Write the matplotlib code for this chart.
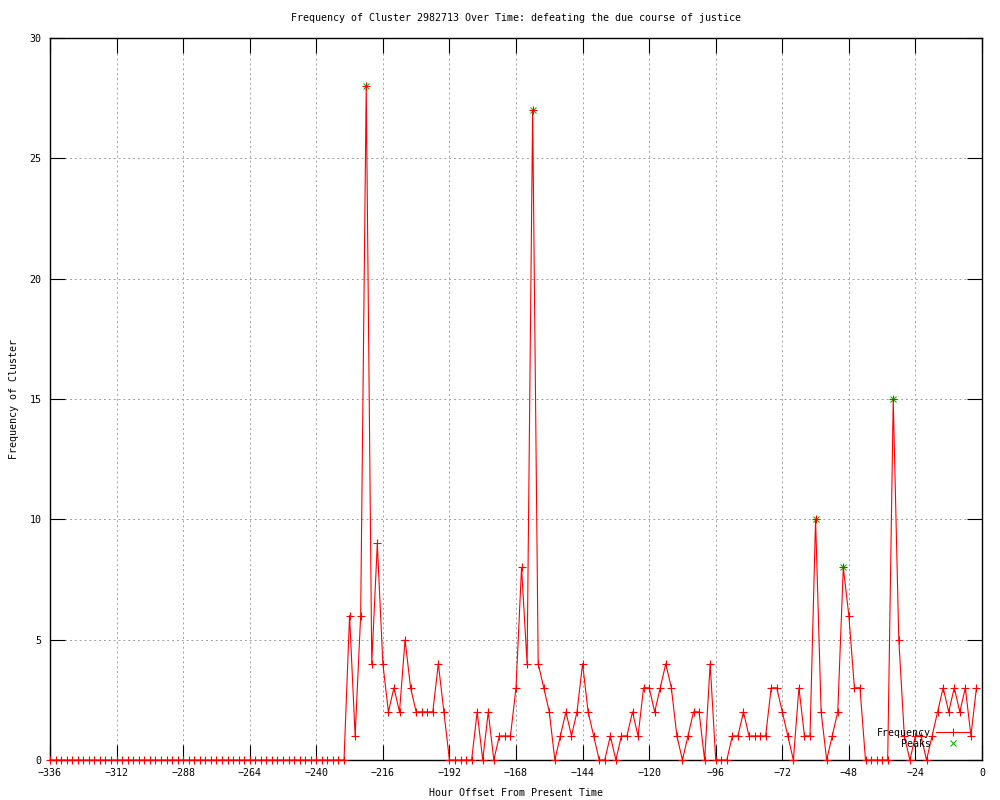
import matplotlib
matplotlib.use("Agg")
import matplotlib.pyplot as plt
import numpy as np

# hours before present, one sample every 2 hours
hours = np.arange(-336, 0, 2)

# -336 .. -230 : nothing
freq_quiet = [0] * 54
# -228 .. -2
freq_active = [6, 1, 6, 28, 4, 9, 4, 2, 3, 2, 5, 3, 2, 2, 2, 2, 4, 2,
               0, 0, 0, 0, 0, 2, 0, 2, 0, 1, 1, 1, 3, 8, 4, 27, 4, 3,
               2, 0, 1, 2, 1, 2, 4, 2, 1, 0, 0, 1, 0, 1, 1, 2, 1, 3,
               3, 2, 3, 4, 3, 1, 0, 1, 2, 2, 0, 4, 0, 0, 0, 1, 1, 2,
               1, 1, 1, 1, 3, 3, 2, 1, 0, 3, 1, 1, 10, 2, 0, 1, 2, 8,
               6, 3, 3, 0, 0, 0, 0, 0, 15, 5, 1, 0, 1, 1, 0, 1, 2, 3,
               2, 3, 2, 3, 1, 3]
freq = np.array(freq_quiet + freq_active)

peak_hours = [-222, -162, -60, -50, -32]
peak_vals = [28, 27, 10, 8, 15]

title = "Frequency of Cluster 2982713 Over Time: defeating the due course of justice"

plt.rcParams['font.family'] = ['DejaVu Sans Mono']
fs = 7.2

fig = plt.figure(figsize=(10, 8), dpi=100)
ax = fig.add_axes([0.05, 0.05, 0.932, 0.9025])

ax.plot(hours, freq, color='#ff0000', lw=0.8, marker='+', ms=6, mew=0.8,
        label='Frequency', clip_on=False, zorder=4)
ax.plot(peak_hours, peak_vals, ls='none', color='#00c000', marker='x', ms=5,
        mew=0.8, label='Peaks', clip_on=False, zorder=3)

ax.set_xlim(-336, 0)
ax.set_ylim(0, 30)
ax.set_xticks(np.arange(-336, 1, 24))
ax.set_yticks(np.arange(0, 31, 5))
ax.tick_params(direction='in', length=11, width=0.8, top=True, right=True,
               labelsize=fs, pad=6)
for s in ax.spines.values():
    s.set_linewidth(1)
ax.grid(True, color='#a0a0a0', ls=(0, (2, 3)), lw=0.7)

ax.set_title(title, fontsize=fs, pad=12)
ax.set_xlabel("Hour Offset From Present Time", fontsize=fs, labelpad=7)
ax.set_ylabel("Frequency of Cluster", fontsize=fs, labelpad=8)

leg = ax.legend(loc='lower right', bbox_to_anchor=(0.995, 0.006), frameon=False,
                markerfirst=False, fontsize=fs, handlelength=3.4, numpoints=1,
                handletextpad=0.5, labelspacing=0.1, borderpad=0.2)

fig.savefig("out.png", dpi=100)
